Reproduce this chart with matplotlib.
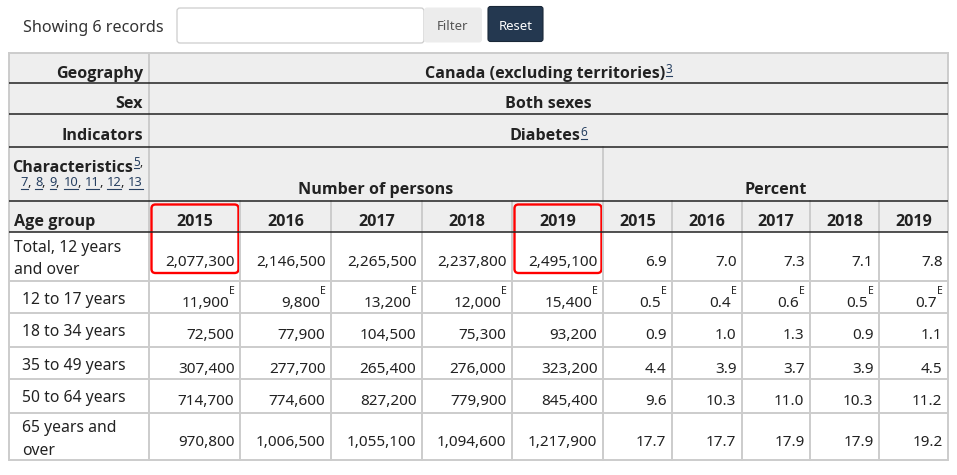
import matplotlib
matplotlib.use("Agg")
import matplotlib.pyplot as plt
from matplotlib.patches import Rectangle, FancyBboxPatch

plt.rcParams['font.family'] = ['Noto Sans', 'DejaVu Sans']

# ---- data ----
years = ["2015", "2016", "2017", "2018", "2019"]
age_groups = ["Total, 12 years\nand over", "12 to 17 years", "18 to 34 years",
              "35 to 49 years", "50 to 64 years", "65 years and\nover"]
persons = [
    [2077300, 2146500, 2265500, 2237800, 2495100],
    [11900, 9800, 13200, 12000, 15400],
    [72500, 77900, 104500, 75300, 93200],
    [307400, 277700, 265400, 276000, 323200],
    [714700, 774600, 827200, 779900, 845400],
    [970800, 1006500, 1055100, 1094600, 1217900],
]
percent = [
    [6.9, 7.0, 7.3, 7.1, 7.8],
    [0.5, 0.4, 0.6, 0.5, 0.7],
    [0.9, 1.0, 1.3, 0.9, 1.1],
    [4.4, 3.9, 3.7, 3.9, 4.5],
    [9.6, 10.3, 11.0, 10.3, 11.2],
    [17.7, 17.7, 17.9, 17.9, 19.2],
]
estimate = [False, True, False, False, False, False]
char_notes = ["7", "8", "9", "10", "11", "12", "13"]
highlight_years = ["2015", "2019"]

# ---- layout (pixels) ----
W, H = 957, 475
col_x = [149, 240, 331, 422, 512, 603, 672, 742, 810, 879, 948]
left, right = 9, 948
head_y = [53, 83, 114, 147, 201, 232]
row_y = [232, 281, 313, 347, 379, 413, 460]

txt = "#222222"
link = "#284162"
grey_bg = "#eeeeee"
light = "#cccccc"
BOLD = dict(family=['Open Sans', 'DejaVu Sans'], fontweight='bold')
REG = dict(family=['Noto Sans', 'DejaVu Sans'], fontweight='normal')
bsize = 11.6   # bold header size
lsize = 11.3   # row label size

fig = plt.figure(figsize=(W / 100, H / 100), dpi=100)
ax = fig.add_axes([0, 0, 1, 1])
ax.set_xlim(0, W)
ax.set_ylim(H, 0)
ax.axis('off')
rend = fig.canvas.get_renderer()


def runs(x, y, parts, ha='left'):
    # parts: (text, size, bold, color, dy, underline)
    items = []
    total = 0
    for s, size, bold, color, dy, ul in parts:
        t = ax.text(0, y + dy, s, fontsize=size, color=color, ha='left', va='baseline',
                    **(BOLD if bold else REG))
        w = t.get_window_extent(rend).width
        items.append((t, w, ul, dy))
        total += w
    if ha == 'right':
        start = x - total
    elif ha == 'center':
        start = x - total / 2
    else:
        start = x
    for t, w, ul, dy in items:
        t.set_x(start)
        if ul:
            ax.plot([start + 0.5, start + w - 0.5], [y + dy + 2.5] * 2, color=link, lw=0.8)
        start += w


# ---- top controls ----
ax.text(23, 31.5, "Showing 6 records", fontsize=11.6, color="#333333", va='baseline')
ax.add_patch(FancyBboxPatch((177, 8), 247, 35, boxstyle="round,pad=0,rounding_size=3",
                            facecolor='white', edgecolor=light, lw=0.9))
ax.add_patch(FancyBboxPatch((424, 7.5), 58, 35, boxstyle="round,pad=0,rounding_size=3",
                            facecolor="#ececec", edgecolor="none"))
ax.text(453, 29.5, "Filter", fontsize=9.5, color="#555555", ha='center', va='baseline')
ax.add_patch(FancyBboxPatch((488, 6.5), 55, 35, boxstyle="round,pad=0,rounding_size=2.5",
                            facecolor="#243850", edgecolor="#1a2838", lw=0.8))
ax.text(515.5, 29.5, "Reset", fontsize=9.5, color="white", ha='center', va='baseline')

# ---- table backgrounds ----
ax.add_patch(Rectangle((left, head_y[0]), right - left, head_y[-1] - head_y[0],
                       facecolor=grey_bg, edgecolor='none'))
ax.add_patch(Rectangle((left, row_y[0]), right - left, row_y[-1] - row_y[0],
                       facecolor='white', edgecolor='none'))

# grid lines
for y in row_y[1:]:
    ax.plot([left, right], [y, y], color=light, lw=1.4, solid_capstyle='butt')
ax.plot([left, right], [head_y[0], head_y[0]], color=light, lw=1.4)
ax.plot([left, left], [head_y[0], row_y[-1]], color=light, lw=1.4)
ax.plot([right, right], [head_y[0], row_y[-1]], color=light, lw=1.4)
ax.plot([col_x[0], col_x[0]], [head_y[0], row_y[-1]], color=light, lw=1.4)
ax.plot([col_x[5], col_x[5]], [head_y[3], row_y[-1]], color=light, lw=1.4)
for i, x in enumerate(col_x[1:-1], start=1):
    if i != 5:
        ax.plot([x, x], [head_y[4], row_y[-1]], color=light, lw=1.4)
for y in head_y[1:]:
    ax.plot([left, right], [y, y], color=txt, lw=1.1, solid_capstyle='butt')

# ---- header text ----
mid = (col_x[0] + right) / 2
ax.text(143, 78, "Geography", fontsize=bsize, color=txt, ha='right', va='baseline', **BOLD)
runs(mid, 78, [("Canada (excluding territories)", bsize, True, txt, 0, False),
               ("3", 8.5, False, link, -5, True)], ha='center')
ax.text(143, 108, "Sex", fontsize=bsize, color=txt, ha='right', va='baseline', **BOLD)
ax.text(mid, 108, "Both sexes", fontsize=bsize, color=txt, ha='center', va='baseline', **BOLD)
ax.text(143, 140.5, "Indicators", fontsize=bsize, color=txt, ha='right', va='baseline', **BOLD)
runs(mid, 140.5, [("Diabetes", bsize, True, txt, 0, False),
                  ("6", 8.5, False, link, -4.5, True)], ha='center')

runs(143, 171.5, [("Characteristics", bsize, True, txt, 0, False),
                  ("5", 8.5, False, link, -6, True),
                  (",", 8.5, False, txt, -6, False)], ha='right')
parts = []
for k, n in enumerate(char_notes):
    parts.append((n, 9.3, False, link, 0, True))
    if k < len(char_notes) - 1:
        parts.append((", ", 9.3, False, txt, 0, False))
runs(143, 186.5, parts, ha='right')

ax.text((col_x[0] + col_x[5]) / 2, 194, "Number of persons", fontsize=bsize,
        color=txt, ha='center', va='baseline', **BOLD)
ax.text((col_x[5] + right) / 2, 194, "Percent", fontsize=bsize,
        color=txt, ha='center', va='baseline', **BOLD)

ax.text(14, 226, "Age group", fontsize=bsize, color=txt, va='baseline', **BOLD)
for j in range(10):
    ax.text((col_x[j] + col_x[j + 1]) / 2, 226, years[j % 5], fontsize=bsize,
            color=txt, ha='center', va='baseline', **BOLD)

# ---- body ----
for i, label in enumerate(age_groups):
    top = row_y[i]
    lines = label.split("\n")
    lx = 14 if i == 0 else 22
    if len(lines) == 2:
        ax.text(lx, top + 19.5, lines[0], fontsize=lsize, color=txt, va='baseline')
        ax.text(lx, top + 42, lines[1], fontsize=lsize, color=txt, va='baseline')
        base = top + 33.5
    else:
        ax.text(lx, top + 22.5, lines[0], fontsize=lsize, color=txt, va='baseline')
        base = top + 26
    vals = [f"{v:,}" for v in persons[i]] + [f"{v:.1f}" for v in percent[i]]
    for j, s in enumerate(vals):
        xr = col_x[j + 1] - 5.5
        if estimate[i]:
            e = ax.text(xr, base - 12.5, "E", fontsize=7.5, color=txt, ha='right', va='baseline')
            ew = e.get_window_extent(rend).width
            ax.text(xr - ew + 0.5, base, s, fontsize=11, color=txt, ha='right', va='baseline')
        else:
            ax.text(xr, base, s, fontsize=11, color=txt, ha='right', va='baseline')

# ---- red highlight boxes ----
for yr in highlight_years:
    j = years.index(yr)
    x0, x1 = col_x[j] + 2.5, col_x[j + 1] - 1.5
    ax.add_patch(FancyBboxPatch((x0, 204.5), x1 - x0, 68.5,
                                boxstyle="round,pad=0,rounding_size=4",
                                facecolor='none', edgecolor='#ff0000', lw=1.7))

fig.savefig("out.png", dpi=100)
